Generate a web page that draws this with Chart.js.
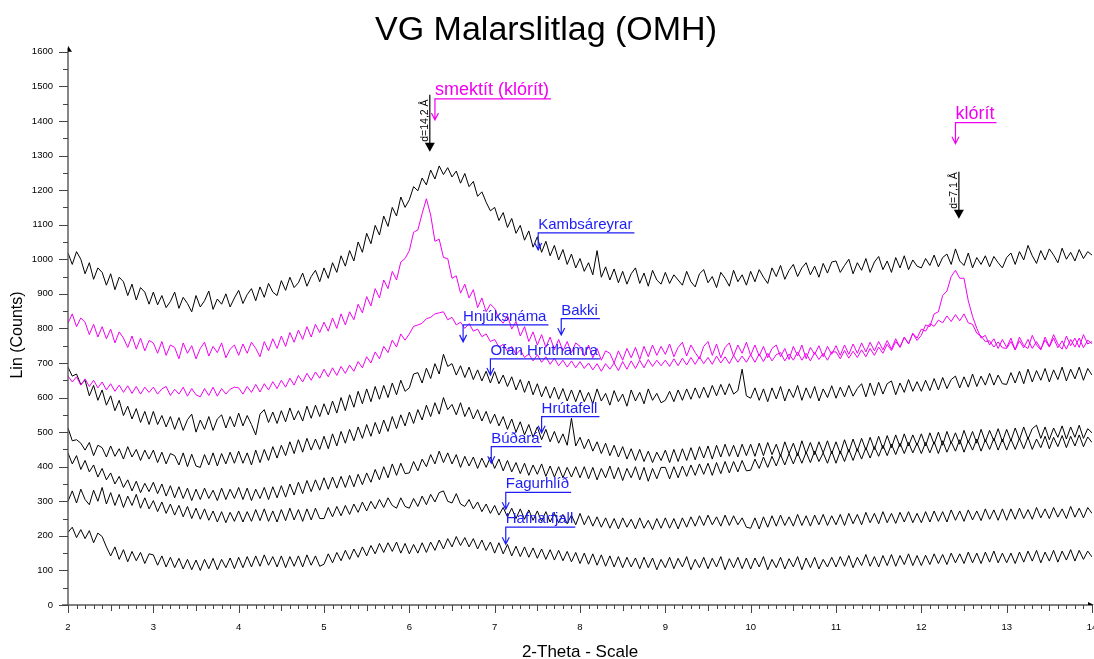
<!DOCTYPE html>
<html>
<head>
<meta charset="utf-8">
<script src="https://cdn.jsdelivr.net/npm/chart.js@4.4.0/dist/chart.umd.min.js"></script>
<style>
  html, body { margin: 0; padding: 0; background: #fff; }
  #wrap { width: 1094px; height: 659px; position: relative; }
</style>
</head>
<body>
<div id="wrap"><canvas id="xrd"></canvas></div>
<script>
// 2-theta grid (degrees), one row per degree
const theta = [
  2.00, 2.05, 2.10, 2.15, 2.20, 2.25, 2.30, 2.35, 2.40, 2.45, 2.50, 2.55, 2.60, 2.65, 2.70, 2.75, 2.80, 2.85, 2.90, 2.95,
  3.00, 3.05, 3.10, 3.15, 3.20, 3.25, 3.30, 3.35, 3.40, 3.45, 3.50, 3.55, 3.60, 3.65, 3.70, 3.75, 3.80, 3.85, 3.90, 3.95,
  4.00, 4.05, 4.10, 4.15, 4.20, 4.25, 4.30, 4.35, 4.40, 4.45, 4.50, 4.55, 4.60, 4.65, 4.70, 4.75, 4.80, 4.85, 4.90, 4.95,
  5.00, 5.05, 5.10, 5.15, 5.20, 5.25, 5.30, 5.35, 5.40, 5.45, 5.50, 5.55, 5.60, 5.65, 5.70, 5.75, 5.80, 5.85, 5.90, 5.95,
  6.00, 6.05, 6.10, 6.15, 6.20, 6.25, 6.30, 6.35, 6.40, 6.45, 6.50, 6.55, 6.60, 6.65, 6.70, 6.75, 6.80, 6.85, 6.90, 6.95,
  7.00, 7.05, 7.10, 7.15, 7.20, 7.25, 7.30, 7.35, 7.40, 7.45, 7.50, 7.55, 7.60, 7.65, 7.70, 7.75, 7.80, 7.85, 7.90, 7.95,
  8.00, 8.05, 8.10, 8.15, 8.20, 8.25, 8.30, 8.35, 8.40, 8.45, 8.50, 8.55, 8.60, 8.65, 8.70, 8.75, 8.80, 8.85, 8.90, 8.95,
  9.00, 9.05, 9.10, 9.15, 9.20, 9.25, 9.30, 9.35, 9.40, 9.45, 9.50, 9.55, 9.60, 9.65, 9.70, 9.75, 9.80, 9.85, 9.90, 9.95,
  10.00, 10.05, 10.10, 10.15, 10.20, 10.25, 10.30, 10.35, 10.40, 10.45, 10.50, 10.55, 10.60, 10.65, 10.70, 10.75, 10.80, 10.85, 10.90, 10.95,
  11.00, 11.05, 11.10, 11.15, 11.20, 11.25, 11.30, 11.35, 11.40, 11.45, 11.50, 11.55, 11.60, 11.65, 11.70, 11.75, 11.80, 11.85, 11.90, 11.95,
  12.00, 12.05, 12.10, 12.15, 12.20, 12.25, 12.30, 12.35, 12.40, 12.45, 12.50, 12.55, 12.60, 12.65, 12.70, 12.75, 12.80, 12.85, 12.90, 12.95,
  13.00, 13.05, 13.10, 13.15, 13.20, 13.25, 13.30, 13.35, 13.40, 13.45, 13.50, 13.55, 13.60, 13.65, 13.70, 13.75, 13.80, 13.85, 13.90, 13.95,
  14.00
];

// counts per sample (Lin)
const kambsareyrar = [
  1018, 985, 1022, 1000, 958, 990, 942, 975, 962, 925, 958, 912, 948, 935, 895, 928, 882, 918, 905, 870,
  905, 868, 895, 860, 878, 905, 858, 890, 872, 848, 895, 862, 880, 908, 855, 885, 870, 900, 862, 888,
  910, 872, 898, 915, 880, 920, 890, 930, 905, 895, 938, 910, 948, 918, 932, 960, 922, 950, 968, 935,
  975, 945, 990, 962, 1010, 980, 1025, 995, 1050, 1020, 1075, 1045, 1098, 1070, 1125, 1095, 1150, 1125, 1180, 1150,
  1172, 1210, 1198, 1235, 1215, 1258, 1232, 1270, 1245, 1265, 1238, 1255, 1220, 1248, 1210, 1225, 1182, 1195, 1165, 1140,
  1150, 1112, 1135, 1092, 1118, 1075, 1098, 1055, 1082, 1035, 1065, 1020, 1052, 1010, 1040, 998, 1028, 985, 1015, 975,
  1002, 965, 990, 955, 1025, 948, 978, 940, 972, 932, 965, 928, 958, 975, 930, 960, 922, 968, 940, 928,
  962, 930, 955, 940, 925, 965, 935, 920, 958, 970, 932, 950, 918, 962, 945, 922, 968, 935, 955, 925,
  965, 935, 970, 948, 930, 975, 950, 982, 942, 968, 985, 950, 975, 990, 955, 980, 948, 988, 960, 992,
  995, 962, 982, 1000, 958, 990, 968, 1002, 962, 992, 1008, 970, 995, 962, 1005, 975, 1010, 970, 998, 980,
  975, 1002, 982, 1012, 978, 1005, 1015, 985, 1030, 995, 982, 1018, 975, 1005, 985, 1010, 978, 1008, 990, 975,
  1005, 1018, 985, 1022, 998, 1040, 1010, 988, 1025, 998, 1030, 1012, 990, 1032, 1000, 1020, 995, 1028, 1002, 1022,
  1012
];
const bakki = [
  815, 842, 805, 830, 818, 782, 812, 775, 805, 770, 798, 758, 790, 772, 745, 778, 740, 772, 735, 765,
  758, 728, 762, 722, 752, 745, 712, 758, 728, 750, 712, 742, 760, 720, 748, 730, 758, 715, 740, 752,
  722, 755, 728, 760, 742, 718, 762, 735, 770, 742, 778, 748, 788, 760, 795, 768, 805, 775, 812, 788,
  818, 792, 830, 800, 842, 810, 848, 825, 870, 845, 892, 865, 915, 888, 940, 915, 965, 940, 992, 1002,
  1025, 1078, 1085, 1132, 1175, 1128, 1052, 1058, 1005, 1002, 945, 952, 902, 928, 888, 912, 860, 888, 848, 870,
  858, 828, 815, 838, 798, 820, 778, 805, 762, 790, 752, 782, 745, 775, 738, 768, 735, 762, 730, 758,
  748, 720, 752, 715, 742, 708, 735, 728, 700, 735, 708, 742, 715, 745, 710, 748, 718, 752, 722, 748,
  725, 755, 718, 745, 760, 720, 752, 730, 712, 748, 762, 722, 755, 715, 745, 758, 720, 752, 728, 760,
  722, 752, 720, 748, 715, 742, 752, 718, 742, 710, 748, 720, 752, 712, 745, 725, 750, 718, 748, 725,
  750, 722, 752, 725, 755, 728, 758, 732, 760, 735, 762, 738, 765, 740, 770, 745, 775, 755, 785, 765,
  780, 810, 805, 842, 848, 895, 908, 950, 968, 945, 945, 880, 835, 800, 772, 780, 752, 770, 742, 768,
  745, 772, 738, 775, 750, 742, 780, 752, 738, 775, 748, 782, 755, 740, 778, 750, 772, 745, 782, 755,
  762
];
const hnjuksnama = [
  662, 645, 660, 636, 654, 632, 650, 628, 645, 622, 640, 618, 636, 615, 634, 612, 632, 610, 630, 615,
  630, 610, 625, 632, 606, 624, 610, 630, 604, 626, 608, 602, 626, 606, 630, 604, 626, 610, 624, 630,
  628, 610, 632, 615, 638, 616, 640, 622, 646, 626, 650, 630, 656, 636, 664, 645, 670, 650, 674, 656,
  682, 660, 686, 664, 690, 670, 694, 676, 704, 686, 718, 700, 732, 712, 748, 730, 766, 746, 784, 766,
  784, 806, 810, 815, 828, 832, 842, 845, 848, 825, 832, 810, 818, 800, 814, 792, 798, 776, 784, 762,
  768, 746, 754, 734, 748, 724, 738, 716, 726, 706, 724, 702, 718, 696, 714, 692, 708, 688, 706, 686,
  704, 684, 700, 680, 698, 676, 698, 682, 700, 678, 704, 682, 706, 684, 708, 686, 710, 690, 708, 692,
  708, 690, 712, 692, 714, 694, 716, 696, 718, 698, 716, 696, 720, 700, 718, 698, 722, 702, 720, 702,
  724, 702, 726, 704, 728, 706, 724, 730, 706, 726, 708, 732, 708, 728, 706, 730, 710, 728, 708, 732,
  732, 712, 736, 714, 734, 716, 738, 718, 742, 722, 746, 728, 754, 736, 762, 746, 774, 756, 786, 772,
  798, 792, 814, 806, 824, 816, 836, 820, 840, 822, 842, 816, 812, 786, 778, 762, 764, 746, 761, 744,
  742, 762, 738, 764, 744, 768, 742, 762, 740, 766, 746, 772, 744, 764, 740, 768, 746, 772, 744, 766,
  756
];
const ofanHruthamra = [
  688, 662, 668, 638, 650, 605, 635, 592, 622, 578, 605, 562, 592, 548, 575, 538, 568, 528, 560, 522,
  560, 522, 548, 515, 545, 508, 542, 505, 536, 552, 500, 535, 508, 545, 505, 538, 550, 512, 545, 515,
  555, 518, 548, 522, 492, 552, 565, 528, 558, 525, 562, 530, 570, 535, 562, 532, 575, 540, 578, 545,
  582, 550, 590, 555, 600, 562, 608, 572, 618, 582, 625, 588, 632, 595, 635, 600, 642, 608, 650, 618,
  628, 668, 672, 642, 685, 655, 698, 668, 725, 690, 698, 665, 692, 658, 688, 652, 680, 648, 676, 642,
  675, 640, 665, 632, 660, 622, 652, 615, 648, 608, 640, 602, 632, 598, 630, 595, 626, 590, 622, 588,
  622, 588, 615, 582, 625, 590, 612, 578, 620, 588, 610, 575, 622, 590, 615, 582, 625, 592, 612, 585,
  592, 618, 588, 622, 592, 625, 595, 628, 598, 630, 600, 635, 605, 638, 608, 640, 610, 620, 682, 605,
  598, 628, 592, 625, 588, 628, 596, 632, 590, 625, 600, 635, 592, 628, 598, 632, 590, 625, 600, 634,
  598, 630, 602, 635, 604, 626, 640, 602, 642, 606, 644, 610, 640, 648, 608, 642, 615, 652, 618, 646,
  618, 650, 620, 655, 622, 658, 626, 652, 662, 628, 660, 630, 668, 632, 662, 636, 670, 636, 665, 640,
  638, 672, 642, 676, 640, 682, 645, 678, 650, 684, 645, 680, 652, 688, 648, 682, 654, 688, 650, 684,
  665
];
const hrutafell = [
  512, 475, 478, 468, 448, 470, 432, 462, 455, 428, 460, 430, 452, 422, 458, 428, 450, 418, 448, 422,
  448, 412, 442, 408, 438, 432, 405, 440, 400, 436, 402, 398, 435, 405, 440, 402, 438, 408, 442, 410,
  445, 410, 440, 405, 448, 412, 450, 418, 458, 425, 462, 432, 472, 438, 478, 442, 482, 448, 480, 450,
  488, 452, 495, 460, 502, 468, 508, 475, 515, 482, 522, 488, 528, 495, 535, 502, 545, 510, 550, 518,
  558, 525, 565, 535, 578, 545, 585, 552, 600, 565, 580, 550, 585, 545, 572, 538, 565, 532, 560, 525,
  552, 518, 545, 508, 538, 500, 530, 492, 522, 485, 515, 478, 508, 472, 502, 468, 495, 462, 540, 460,
  485, 452, 480, 445, 472, 438, 468, 432, 462, 428, 458, 422, 452, 418, 450, 415, 445, 412, 442, 418,
  448, 412, 450, 415, 452, 418, 455, 420, 458, 425, 460, 422, 462, 428, 465, 430, 462, 428, 465, 432,
  465, 430, 468, 432, 470, 435, 465, 430, 472, 438, 468, 432, 475, 438, 470, 435, 472, 440, 475, 438,
  472, 438, 478, 442, 480, 445, 482, 448, 485, 450, 488, 452, 490, 455, 492, 458, 495, 460, 492, 462,
  495, 460, 498, 465, 500, 462, 502, 468, 498, 465, 505, 470, 502, 468, 508, 472, 505, 475, 510, 472,
  508, 475, 512, 478, 515, 480, 510, 520, 482, 515, 478, 512, 485, 518, 480, 515, 485, 520, 482, 510,
  498
];
const budara = [
  440, 408, 432, 392, 418, 385, 405, 370, 395, 362, 382, 350, 372, 340, 362, 330, 358, 325, 352, 328,
  355, 322, 350, 315, 345, 310, 342, 308, 338, 302, 335, 305, 338, 308, 332, 302, 338, 305, 335, 308,
  340, 305, 338, 302, 335, 308, 340, 305, 342, 310, 345, 312, 350, 318, 355, 322, 360, 328, 362, 332,
  368, 335, 370, 338, 372, 340, 375, 342, 378, 348, 382, 355, 392, 362, 400, 368, 408, 375, 410, 380,
  382, 415, 388, 422, 400, 435, 408, 445, 412, 440, 408, 435, 398, 430, 402, 428, 395, 425, 398, 428,
  395, 422, 388, 418, 385, 412, 380, 410, 375, 405, 378, 408, 372, 402, 370, 400, 368, 398, 370, 400,
  368, 400, 365, 398, 362, 395, 368, 402, 365, 398, 360, 395, 368, 400, 362, 398, 358, 395, 365, 398,
  398, 365, 400, 368, 402, 372, 405, 375, 408, 378, 410, 375, 412, 380, 415, 382, 415, 385, 418, 388,
  390, 422, 395, 428, 398, 430, 402, 435, 405, 438, 408, 440, 410, 442, 412, 445, 415, 440, 410, 445,
  410, 445, 415, 450, 418, 452, 422, 455, 425, 458, 430, 462, 432, 465, 435, 468, 438, 470, 440, 468,
  438, 470, 440, 472, 438, 475, 442, 472, 445, 478, 442, 475, 448, 480, 445, 478, 450, 482, 448, 480,
  448, 480, 450, 482, 452, 485, 450, 480, 455, 488, 452, 485, 458, 490, 455, 488, 460, 492, 458, 486,
  470
];
const fagurhlid = [
  300, 330, 295, 335, 305, 290, 332, 300, 340, 292, 325, 288, 320, 282, 315, 288, 320, 280, 310, 278,
  302, 270, 298, 265, 292, 260, 288, 255, 285, 250, 280, 248, 278, 245, 272, 240, 270, 238, 268, 242,
  272, 240, 270, 242, 276, 244, 278, 242, 272, 240, 276, 244, 280, 246, 276, 242, 278, 246, 280, 250,
  250, 282, 255, 285, 258, 288, 262, 292, 268, 298, 272, 300, 278, 305, 282, 310, 288, 280, 310, 285,
  280, 308, 285, 315, 290, 320, 298, 325, 330, 300, 295, 322, 292, 285, 305, 278, 298, 270, 292, 265,
  288, 260, 282, 255, 280, 250, 278, 248, 275, 245, 272, 242, 270, 240, 265, 238, 262, 235, 260, 232,
  265, 232, 258, 228, 255, 225, 252, 222, 250, 220, 252, 225, 248, 220, 252, 222, 245, 218, 250, 222,
  252, 222, 250, 220, 252, 225, 255, 228, 258, 230, 260, 232, 255, 228, 260, 230, 258, 232, 252, 225,
  222, 252, 220, 255, 225, 258, 228, 260, 230, 255, 228, 262, 230, 258, 228, 260, 232, 262, 230, 258,
  232, 262, 230, 265, 235, 262, 232, 268, 238, 265, 235, 270, 238, 265, 236, 268, 240, 270, 238, 265,
  238, 270, 240, 272, 242, 270, 240, 275, 245, 272, 242, 275, 246, 272, 244, 278, 248, 275, 245, 278,
  245, 278, 248, 280, 250, 276, 248, 282, 252, 278, 250, 282, 254, 278, 250, 285, 254, 280, 252, 282,
  265
];
const hafnarfjall = [
  210, 225, 195, 218, 192, 215, 180, 208, 198, 168, 142, 168, 132, 160, 125, 155, 128, 152, 120, 148,
  145, 115, 142, 110, 138, 108, 135, 104, 132, 102, 130, 100, 132, 105, 135, 102, 132, 108, 136, 105,
  138, 108, 140, 110, 142, 112, 145, 115, 140, 110, 142, 108, 140, 112, 142, 110, 145, 115, 142, 112,
  118, 148, 122, 152, 128, 158, 132, 162, 138, 168, 142, 172, 148, 178, 152, 180, 155, 182, 150, 178,
  148, 175, 150, 180, 152, 182, 158, 188, 162, 192, 168, 198, 172, 195, 168, 192, 162, 188, 158, 182,
  150, 180, 148, 175, 142, 170, 140, 168, 138, 165, 135, 162, 132, 160, 130, 158, 128, 155, 125, 152,
  120, 150, 118, 148, 115, 145, 112, 142, 110, 140, 108, 138, 110, 136, 105, 138, 108, 136, 102, 132,
  108, 138, 105, 135, 110, 140, 102, 132, 108, 138, 105, 135, 110, 140, 102, 134, 108, 138, 105, 136,
  104, 136, 110, 140, 102, 132, 108, 138, 104, 134, 110, 140, 102, 136, 108, 138, 104, 132, 110, 138,
  110, 140, 112, 143, 108, 138, 114, 146, 112, 140, 110, 143, 114, 146, 112, 143, 117, 148, 114, 143,
  114, 144, 117, 148, 120, 146, 117, 150, 122, 148, 120, 153, 122, 150, 120, 153, 124, 156, 122, 150,
  122, 150, 120, 153, 124, 156, 127, 158, 122, 153, 127, 158, 124, 156, 130, 160, 127, 158, 132, 156,
  139
];

const yTicks = [0, 100, 200, 300, 400, 500, 600, 700, 800, 900, 1000, 1100, 1200, 1300, 1400, 1500, 1600];
const xTicks = [2, 3, 4, 5, 6, 7, 8, 9, 10, 11, 12, 13, 14];

// callouts: [text, 2theta, count at bar, count at arrow tip]
const sampleNotes = [
  ["Kambsáreyrar", 7.51, 1076, 1027],
  ["Bakki", 7.78, 828, 781],
  ["Hnjúksnáma", 6.63, 810, 761],
  ["Ofan Hrúthamra", 6.95, 712, 665],
  ["Hrútafell", 7.55, 545, 498],
  ["Búðará", 6.96, 458, 410],
  ["Fagurhlíð", 7.13, 326, 277],
  ["Hafnarfjall", 7.13, 225, 176]
];
const mineralNotes = [
  ["smektít (klórít)", 6.30, 1464, 1403],
  ["klórít", 12.40, 1395, 1334]
];
const dSpacings = [
  ["d=14,2 Å", 6.24, 1476, 1311],
  ["d=7,1 Å", 12.44, 1253, 1117]
];

const FONT = '"Liberation Sans", Arial, sans-serif';
const MAGENTA = "#f000f0";
const BLUE = "#1e1ef5";

const toPoints = (ys) => ys.map((y, i) => ({ x: theta[i], y }));

function series(label, values, color) {
  return {
    label,
    data: toPoints(values),
    borderColor: color,
    borderWidth: 1,
    pointRadius: 0,
    tension: 0,
    fill: false,
  };
}

function callout(ctx, px, pyBar, pyTip, text, color, size) {
  ctx.font = `${size}px ${FONT}`;
  const w = ctx.measureText(text).width;
  ctx.strokeStyle = color;
  ctx.fillStyle = color;
  ctx.lineWidth = 1.2;
  ctx.beginPath();
  ctx.moveTo(px + w + 2, pyBar);
  ctx.lineTo(px, pyBar);
  ctx.lineTo(px, pyTip);
  ctx.moveTo(px - 3.5, pyTip - 7);
  ctx.lineTo(px, pyTip);
  ctx.lineTo(px + 3.5, pyTip - 7);
  ctx.stroke();
  ctx.textAlign = "left";
  ctx.textBaseline = "alphabetic";
  ctx.fillText(text, px, pyBar - 4);
}

function dArrow(ctx, px, pyTop, pyTip, text) {
  ctx.strokeStyle = "#000";
  ctx.fillStyle = "#000";
  ctx.lineWidth = 1.2;
  ctx.beginPath();
  ctx.moveTo(px, pyTop);
  ctx.lineTo(px, pyTip - 8);
  ctx.stroke();
  ctx.beginPath();
  ctx.moveTo(px - 5, pyTip - 9);
  ctx.lineTo(px + 5, pyTip - 9);
  ctx.lineTo(px, pyTip);
  ctx.closePath();
  ctx.fill();
  ctx.save();
  ctx.translate(px - 2, pyTip - 10);
  ctx.rotate(-Math.PI / 2);
  ctx.font = `10.5px ${FONT}`;
  ctx.textAlign = "left";
  ctx.textBaseline = "alphabetic";
  ctx.fillText(text, 0, 0);
  ctx.restore();
}

const xrdDecor = {
  id: "xrdDecor",
  afterDraw(chart) {
    const { ctx, chartArea: a, scales } = chart;
    const x = scales.x, y = scales.y;
    ctx.save();

    // axes
    ctx.strokeStyle = "#555";
    ctx.lineWidth = 1.4;
    ctx.beginPath();
    ctx.moveTo(a.left, a.bottom);
    ctx.lineTo(a.left, a.top - 4);
    ctx.moveTo(a.left - 6, a.bottom);
    ctx.lineTo(a.right, a.bottom);
    ctx.stroke();
    ctx.fillStyle = "#000";
    ctx.beginPath();
    ctx.moveTo(a.left, a.top - 6);
    ctx.lineTo(a.left + 4, a.top);
    ctx.lineTo(a.left, a.top);
    ctx.closePath();
    ctx.fill();
    ctx.beginPath();
    ctx.moveTo(a.right + 2, a.bottom);
    ctx.lineTo(a.right - 4, a.bottom - 3);
    ctx.lineTo(a.right - 4, a.bottom);
    ctx.closePath();
    ctx.fill();

    // y ticks every 50 counts, x ticks every 0.1 degree
    ctx.strokeStyle = "#444";
    ctx.lineWidth = 1;
    ctx.beginPath();
    for (let v = 0; v <= 1600; v += 50) {
      const py = Math.round(y.getPixelForValue(v)) + 0.5;
      const len = v % 100 === 0 ? 9 : 5;
      ctx.moveTo(a.left - len, py);
      ctx.lineTo(a.left, py);
    }
    for (let i = 0; i <= 120; i++) {
      const px = Math.round(x.getPixelForValue(2 + i / 10)) + 0.5;
      const len = i % 10 === 0 ? 8 : i % 5 === 0 ? 6 : 4;
      ctx.moveTo(px, a.bottom);
      ctx.lineTo(px, a.bottom + len);
    }
    ctx.stroke();

    // tick labels
    ctx.fillStyle = "#000";
    ctx.font = `9.5px ${FONT}`;
    ctx.textAlign = "right";
    ctx.textBaseline = "middle";
    yTicks.forEach((v) => ctx.fillText(String(v), a.left - 15, y.getPixelForValue(v)));
    ctx.textAlign = "center";
    xTicks.forEach((v) => ctx.fillText(String(v), x.getPixelForValue(v), a.bottom + 22));

    // axis titles
    ctx.font = `17px ${FONT}`;
    ctx.fillText("2-Theta - Scale", (a.left + a.right) / 2, a.bottom + 47);
    ctx.save();
    ctx.translate(18, 335);
    ctx.rotate(-Math.PI / 2);
    ctx.font = `16px ${FONT}`;
    ctx.fillText("Lin (Counts)", 0, 0);
    ctx.restore();

    // annotations
    dSpacings.forEach(([t, tx, top, tip]) =>
      dArrow(ctx, x.getPixelForValue(tx), y.getPixelForValue(top), y.getPixelForValue(tip), t));
    mineralNotes.forEach(([t, tx, bar, tip]) =>
      callout(ctx, x.getPixelForValue(tx), y.getPixelForValue(bar), y.getPixelForValue(tip), t, MAGENTA, 18));
    sampleNotes.forEach(([t, tx, bar, tip]) =>
      callout(ctx, x.getPixelForValue(tx), y.getPixelForValue(bar), y.getPixelForValue(tip), t, BLUE, 15));

    ctx.restore();
  },
};

new Chart(document.getElementById("xrd"), {
  type: "line",
  data: {
    datasets: [
      series("Kambsáreyrar", kambsareyrar, "#000"),
      series("Bakki", bakki, MAGENTA),
      series("Hnjúksnáma", hnjuksnama, MAGENTA),
      series("Ofan Hrúthamra", ofanHruthamra, "#000"),
      series("Hrútafell", hrutafell, "#000"),
      series("Búðará", budara, "#000"),
      series("Fagurhlíð", fagurhlid, "#000"),
      series("Hafnarfjall", hafnarfjall, "#000"),
    ],
  },
  options: {
    responsive: true,
    maintainAspectRatio: false,
    animation: false,
    events: [],
    layout: { padding: { left: 0, right: 2, top: 0, bottom: 0 } },
    plugins: {
      legend: { display: false },
      tooltip: { enabled: false },
      title: {
        display: true,
        text: "VG Malarslitlag (OMH)",
        color: "#000",
        font: { family: FONT, size: 34, weight: "normal" },
        padding: { top: 10, bottom: 1 },
      },
    },
    scales: {
      x: {
        type: "linear",
        min: 2,
        max: 14,
        ticks: { display: false },
        grid: { display: false },
        border: { display: false },
        afterFit: (s) => { s.height = 54; },
      },
      y: {
        min: 0,
        max: 1600,
        ticks: { display: false },
        grid: { display: false },
        border: { display: false },
        afterFit: (s) => { s.width = 68; },
      },
    },
  },
  plugins: [xrdDecor],
});
</script>
</body>
</html>
